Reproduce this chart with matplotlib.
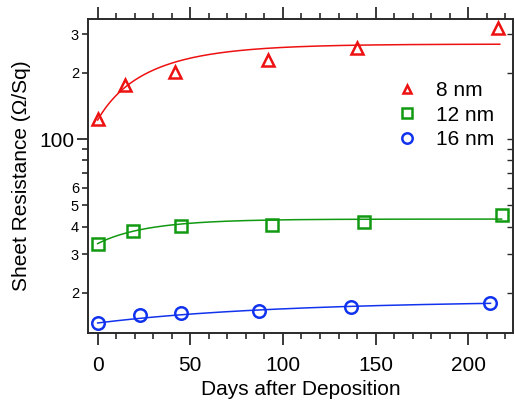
import numpy as np
import matplotlib
matplotlib.use("Agg")
import matplotlib.pyplot as plt
from matplotlib.lines import Line2D
from matplotlib.ticker import FixedLocator, FixedFormatter, NullFormatter

plt.rcParams['font.family'] = ['Liberation Sans', 'DejaVu Sans']

# Data
days_8 = [0, 15, 42, 92, 140, 216]
res_8 = [123.6, 176, 202, 228, 258, 318]
days_12 = [0, 19, 45, 94, 144, 218]
res_12 = [33.5, 38.2, 40.4, 40.5, 42.2, 45.1]
days_16 = [0, 23, 45, 87, 136.5, 211.5]
res_16 = [14.55, 15.86, 16.15, 16.6, 17.2, 18.0]

# exponential fit parameters (A - B*exp(-t/tau)) and fit ranges
fit_8 = dict(A=270.0, B=148.0, tau=36.0, end=217)
fit_12 = dict(A=43.3, B=9.8, tau=30.0, end=218)
fit_16 = dict(A=18.5, B=3.9, tau=110.0, end=212)

labels = ["8 nm", "12 nm", "16 nm"]
colors = ["#ee1111", "#119911", "#1133ee"]
markers = ["^", "s", "o"]

fig = plt.figure(figsize=(5.15, 4.01), dpi=100)
ax = fig.add_axes([0.1709, 0.1696, 0.9967 - 0.1709, 0.9519 - 0.1696])

series = [(days_8, res_8, fit_8, 8.5), (days_12, res_12, fit_12, 8.0), (days_16, res_16, fit_16, 9.0)]
for (d, r, f, ms), c, m in zip(series, colors, markers):
    t = np.linspace(0, f["end"], 300)
    ax.plot(t, f["A"] - f["B"] * np.exp(-t / f["tau"]), color=c, lw=1.1, zorder=2)
    ax.plot(d, r, linestyle="none", marker=m, ms=ms, mfc="none", mec=c, mew=1.8, zorder=3)

ax.set_yscale("log")
ax.set_xlim(-5.2, 224.3)
ax.set_ylim(13.15, 350)

ax.xaxis.set_major_locator(FixedLocator([0, 50, 100, 150, 200]))
ax.xaxis.set_minor_locator(FixedLocator([v for v in range(0, 230, 10) if v % 50 != 0]))

ax.yaxis.set_major_locator(FixedLocator([100]))
ax.yaxis.set_major_formatter(FixedFormatter(["100"]))
minor_y = [20, 30, 40, 50, 60, 70, 80, 90, 200, 300]
minor_lbl = ["2", "3", "4", "5", "6", "", "", "", "2", "3"]
ax.yaxis.set_minor_locator(FixedLocator(minor_y))
ax.yaxis.set_minor_formatter(FixedFormatter(minor_lbl))

for s in ax.spines.values():
    s.set_linewidth(1.4)
    s.set_color("#2a2a2a")

ax.tick_params(axis="x", which="major", direction="out", length=8.5, width=1.3, labelsize=15,
               top=True, bottom=True, pad=8, color="#2a2a2a")
ax.tick_params(axis="x", which="minor", direction="out", length=4.5, width=1.2, top=True,
               bottom=True, color="#2a2a2a")
ax.tick_params(axis="y", which="major", direction="out", length=8, width=1.3, labelsize=15,
               left=True, right=False, pad=2, color="#2a2a2a")
ax.tick_params(axis="y", which="minor", direction="out", length=4.5, width=1.2, labelsize=10.5,
               left=True, right=False, pad=2, color="#2a2a2a")

# inward ticks on right side
axr = ax.secondary_yaxis("right")
axr.yaxis.set_major_locator(FixedLocator([100]))
axr.yaxis.set_minor_locator(FixedLocator(minor_y))
axr.yaxis.set_major_formatter(NullFormatter())
axr.yaxis.set_minor_formatter(NullFormatter())
axr.tick_params(which="both", direction="in", length=4, width=1.0, color="#2a2a2a")
axr.spines["right"].set_visible(False)

ax.set_xlabel("Days after Deposition", fontsize=15, labelpad=4)
ax.set_ylabel("Sheet Resistance (Ω/Sq)", fontsize=15, labelpad=6)

handles = [Line2D([], [], linestyle="none", marker=m, ms=s, mfc="none", mec=c, mew=1.8)
           for m, c, s in zip(markers, colors, [6, 6.5, 7.5])]
ax.legend(handles, labels, loc="upper left", bbox_to_anchor=(0.70, 0.835), frameon=False,
          fontsize=15, handlelength=1.0, handletextpad=0.9, labelspacing=0.25, borderpad=0)

fig.savefig("out.png", dpi=100)
